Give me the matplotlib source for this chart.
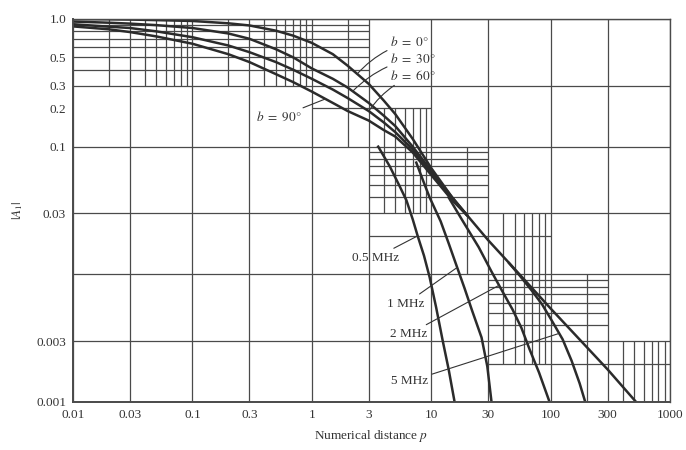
import matplotlib.pyplot as plt
import numpy as np

# 数値距離 p と減衰係数 |A1|
p_b = [0.01, 0.02, 0.03, 0.05, 0.1, 0.2, 0.3, 0.5, 0.7, 1, 1.5, 2, 3, 4, 5, 7, 10, 15, 20]
a_b0 = [1.0, 0.995, 0.99, 0.98, 0.965, 0.925, 0.89, 0.81, 0.74, 0.65, 0.53, 0.43, 0.31, 0.23, 0.18, 0.115, 0.068, 0.040, 0.029]
a_b30 = [0.955, 0.935, 0.92, 0.895, 0.85, 0.77, 0.70, 0.58, 0.50, 0.41, 0.34, 0.29, 0.22, 0.175, 0.145, 0.10, 0.065, 0.040, 0.029]
a_b60 = [0.91, 0.87, 0.85, 0.80, 0.72, 0.62, 0.55, 0.46, 0.40, 0.34, 0.28, 0.24, 0.19, 0.155, 0.13, 0.095, 0.062, 0.039, 0.029]
a_b90 = [0.875, 0.83, 0.79, 0.73, 0.64, 0.53, 0.46, 0.37, 0.32, 0.27, 0.22, 0.19, 0.16, 0.135, 0.12, 0.09, 0.06, 0.038, 0.029]

# 平面大地 (直線部分)
p_flat = [20, 30, 50, 100, 200, 300, 520]
a_flat = [0.029, 0.0185, 0.011, 0.0054, 0.0027, 0.0018, 0.001]

# 周波数ごとの曲線
p_05 = [3.6, 4.5, 5.5, 6.2, 7.0, 7.7, 8.7, 9.7, 11, 12.5, 14, 15.7]
a_05 = [0.1, 0.07, 0.048, 0.038, 0.027, 0.020, 0.014, 0.0095, 0.0055, 0.003, 0.0018, 0.001]
p_1 = [7.5, 8.5, 9.7, 12, 14, 16.4, 19, 22, 26.4, 29.5, 32]
a_1 = [0.075, 0.055, 0.040, 0.026, 0.0175, 0.0115, 0.0078, 0.0052, 0.0032, 0.0019, 0.001]
p_2 = [14, 18, 25, 32, 39, 48, 57, 66.5, 80, 98]
a_2 = [0.04, 0.027, 0.0163, 0.0105, 0.0075, 0.0053, 0.0038, 0.0026, 0.0017, 0.001]
p_5 = [45, 55, 70, 85, 100, 126, 150, 175, 195]
a_5 = [0.0122, 0.0098, 0.0074, 0.0058, 0.0045, 0.0031, 0.0021, 0.0014, 0.001]

x_ticks = [0.01, 0.03, 0.1, 0.3, 1, 3, 10, 30, 100, 300, 1000]
x_labels = ["0.01", "0.03", "0.1", "0.3", "1", "3", "10", "30", "100", "300", "1000"]
y_ticks = [1.0, 0.5, 0.3, 0.2, 0.1, 0.03, 0.003, 0.001]
y_labels = ["1.0", "0.5", "0.3", "0.2", "0.1", "0.03", "0.003", "0.001"]

# グラフ設定
plt.rcParams["font.family"] = ["Liberation Serif", "DejaVu Serif"]
plt.rcParams["mathtext.fontset"] = "stix"

fig = plt.figure(figsize=(6.86, 4.5), dpi=100)
ax = fig.add_axes([0.1064, 0.1067, 0.8703, 0.8511])
ax.set_xscale("log")
ax.set_yscale("log")
ax.set_xlim(0.01, 1000)
ax.set_ylim(0.001, 1.0)

gc = "#4a4a4a"
gw = 0.9

# 主格子線
for x in x_ticks:
    ax.vlines(x, 0.001, 1.0, color=gc, lw=gw)
for y in [1.0, 0.3, 0.1, 0.03, 0.01, 0.003, 0.001]:
    ax.hlines(y, 0.01, 1000, color=gc, lw=gw)

# 階段状の細かい格子
minor_v = [(m * d, 0.3, 1.0) for d in [0.01, 0.1] for m in [2, 4, 5, 6, 7, 8, 9]]
minor_v += [(2, 0.1, 1.0)]
minor_v += [(m, 0.03, 0.2) for m in [4, 5, 6, 7, 8, 9]]
minor_v += [(20, 0.01, 0.1)]
minor_v += [(m * 10, 0.002, 0.03) for m in [4, 5, 6, 7, 8, 9]]
minor_v += [(200, 0.001, 0.01)]
minor_v += [(m * 100, 0.001, 0.003) for m in [4, 5, 6, 7, 8, 9]]
for x, y0, y1 in minor_v:
    ax.vlines(x, y0, y1, color=gc, lw=gw)

minor_h = [(m * 0.1, 0.01, 3) for m in [4, 5, 6, 7, 8, 9]]
minor_h += [(0.2, 1, 10)]
minor_h += [(m * 0.01, 3, 30) for m in [4, 5, 6, 7, 8, 9]]
minor_h += [(0.02, 3, 100)]
minor_h += [(m * 0.001, 30, 300) for m in [4, 5, 6, 7, 8, 9]]
minor_h += [(0.002, 30, 1000)]
for y, x0, x1 in minor_h:
    ax.hlines(y, x0, x1, color=gc, lw=gw)

# 曲線を描画
cc = "#2b2b2b"
lw = 1.8
for a in [a_b0, a_b30, a_b60, a_b90]:
    ax.plot(p_b, a, color=cc, lw=lw, solid_capstyle="round")
ax.plot(p_flat, a_flat, color=cc, lw=lw)
for p, a in [(p_05, a_05), (p_1, a_1), (p_2, a_2), (p_5, a_5)]:
    ax.plot(p, a, color=cc, lw=lw)


def on_curve(p, a, x):
    # 曲線上の点 (対数軸で読む)
    return x, 10 ** np.interp(np.log10(x), np.log10(p), np.log10(a))


lc = "#333333"
fs = 9.5
ann = dict(color="#333333", fontsize=fs)

# b のラベル
for txt, ty, a, xp in [(r"$b\ =\ 0°$", 0.66, a_b0, 2.4),
                       (r"$b\ =\ 30°$", 0.49, a_b30, 2.2),
                       (r"$b\ =\ 60°$", 0.36, a_b60, 3.0)]:
    ax.annotate(txt, xy=on_curve(p_b, a, xp), xytext=(4.5, ty),
                ha="left", va="center", **ann,
                arrowprops=dict(arrowstyle="-", color=lc, lw=0.8,
                                connectionstyle="arc3,rad=0.15", shrinkA=0, shrinkB=0))
ax.annotate(r"$b\ =\ 90°$", xy=on_curve(p_b, a_b90, 1.3), xytext=(0.83, 0.17),
            ha="right", va="center", **ann,
            arrowprops=dict(arrowstyle="-", color=lc, lw=0.8, shrinkA=0, shrinkB=0))

# 周波数のラベル
for txt, tx, ty, p, a, xp in [("0.5 MHz", 5.4, 0.0135, p_05, a_05, 7.7),
                              ("1 MHz", 8.8, 0.0059, p_1, a_1, 16.5),
                              ("2 MHz", 9.3, 0.0034, p_2, a_2, 37),
                              ("5 MHz", 9.4, 0.00145, p_5, a_5, 118)]:
    ax.annotate(txt, xy=on_curve(p, a, xp), xytext=(tx, ty),
                ha="right", va="center", **ann,
                arrowprops=dict(arrowstyle="-", color=lc, lw=0.8, shrinkA=1, shrinkB=0))

# 軸
ax.set_xticks(x_ticks)
ax.set_xticklabels(x_labels)
ax.set_yticks(y_ticks)
ax.set_yticklabels(y_labels)
ax.minorticks_off()
ax.tick_params(length=0, labelsize=fs, colors="#333333", pad=5)
for s in ax.spines.values():
    s.set_color(gc)
    s.set_linewidth(1.0)
ax.spines["left"].set_linewidth(1.4)
ax.spines["bottom"].set_linewidth(1.4)

ax.set_xlabel(r"Numerical distance $p$", fontsize=fs, color="#333333", labelpad=5)
ax.set_ylabel(r"$|A_1|$", fontsize=fs, color="#333333", labelpad=8)

plt.savefig("out.png", dpi=100)
